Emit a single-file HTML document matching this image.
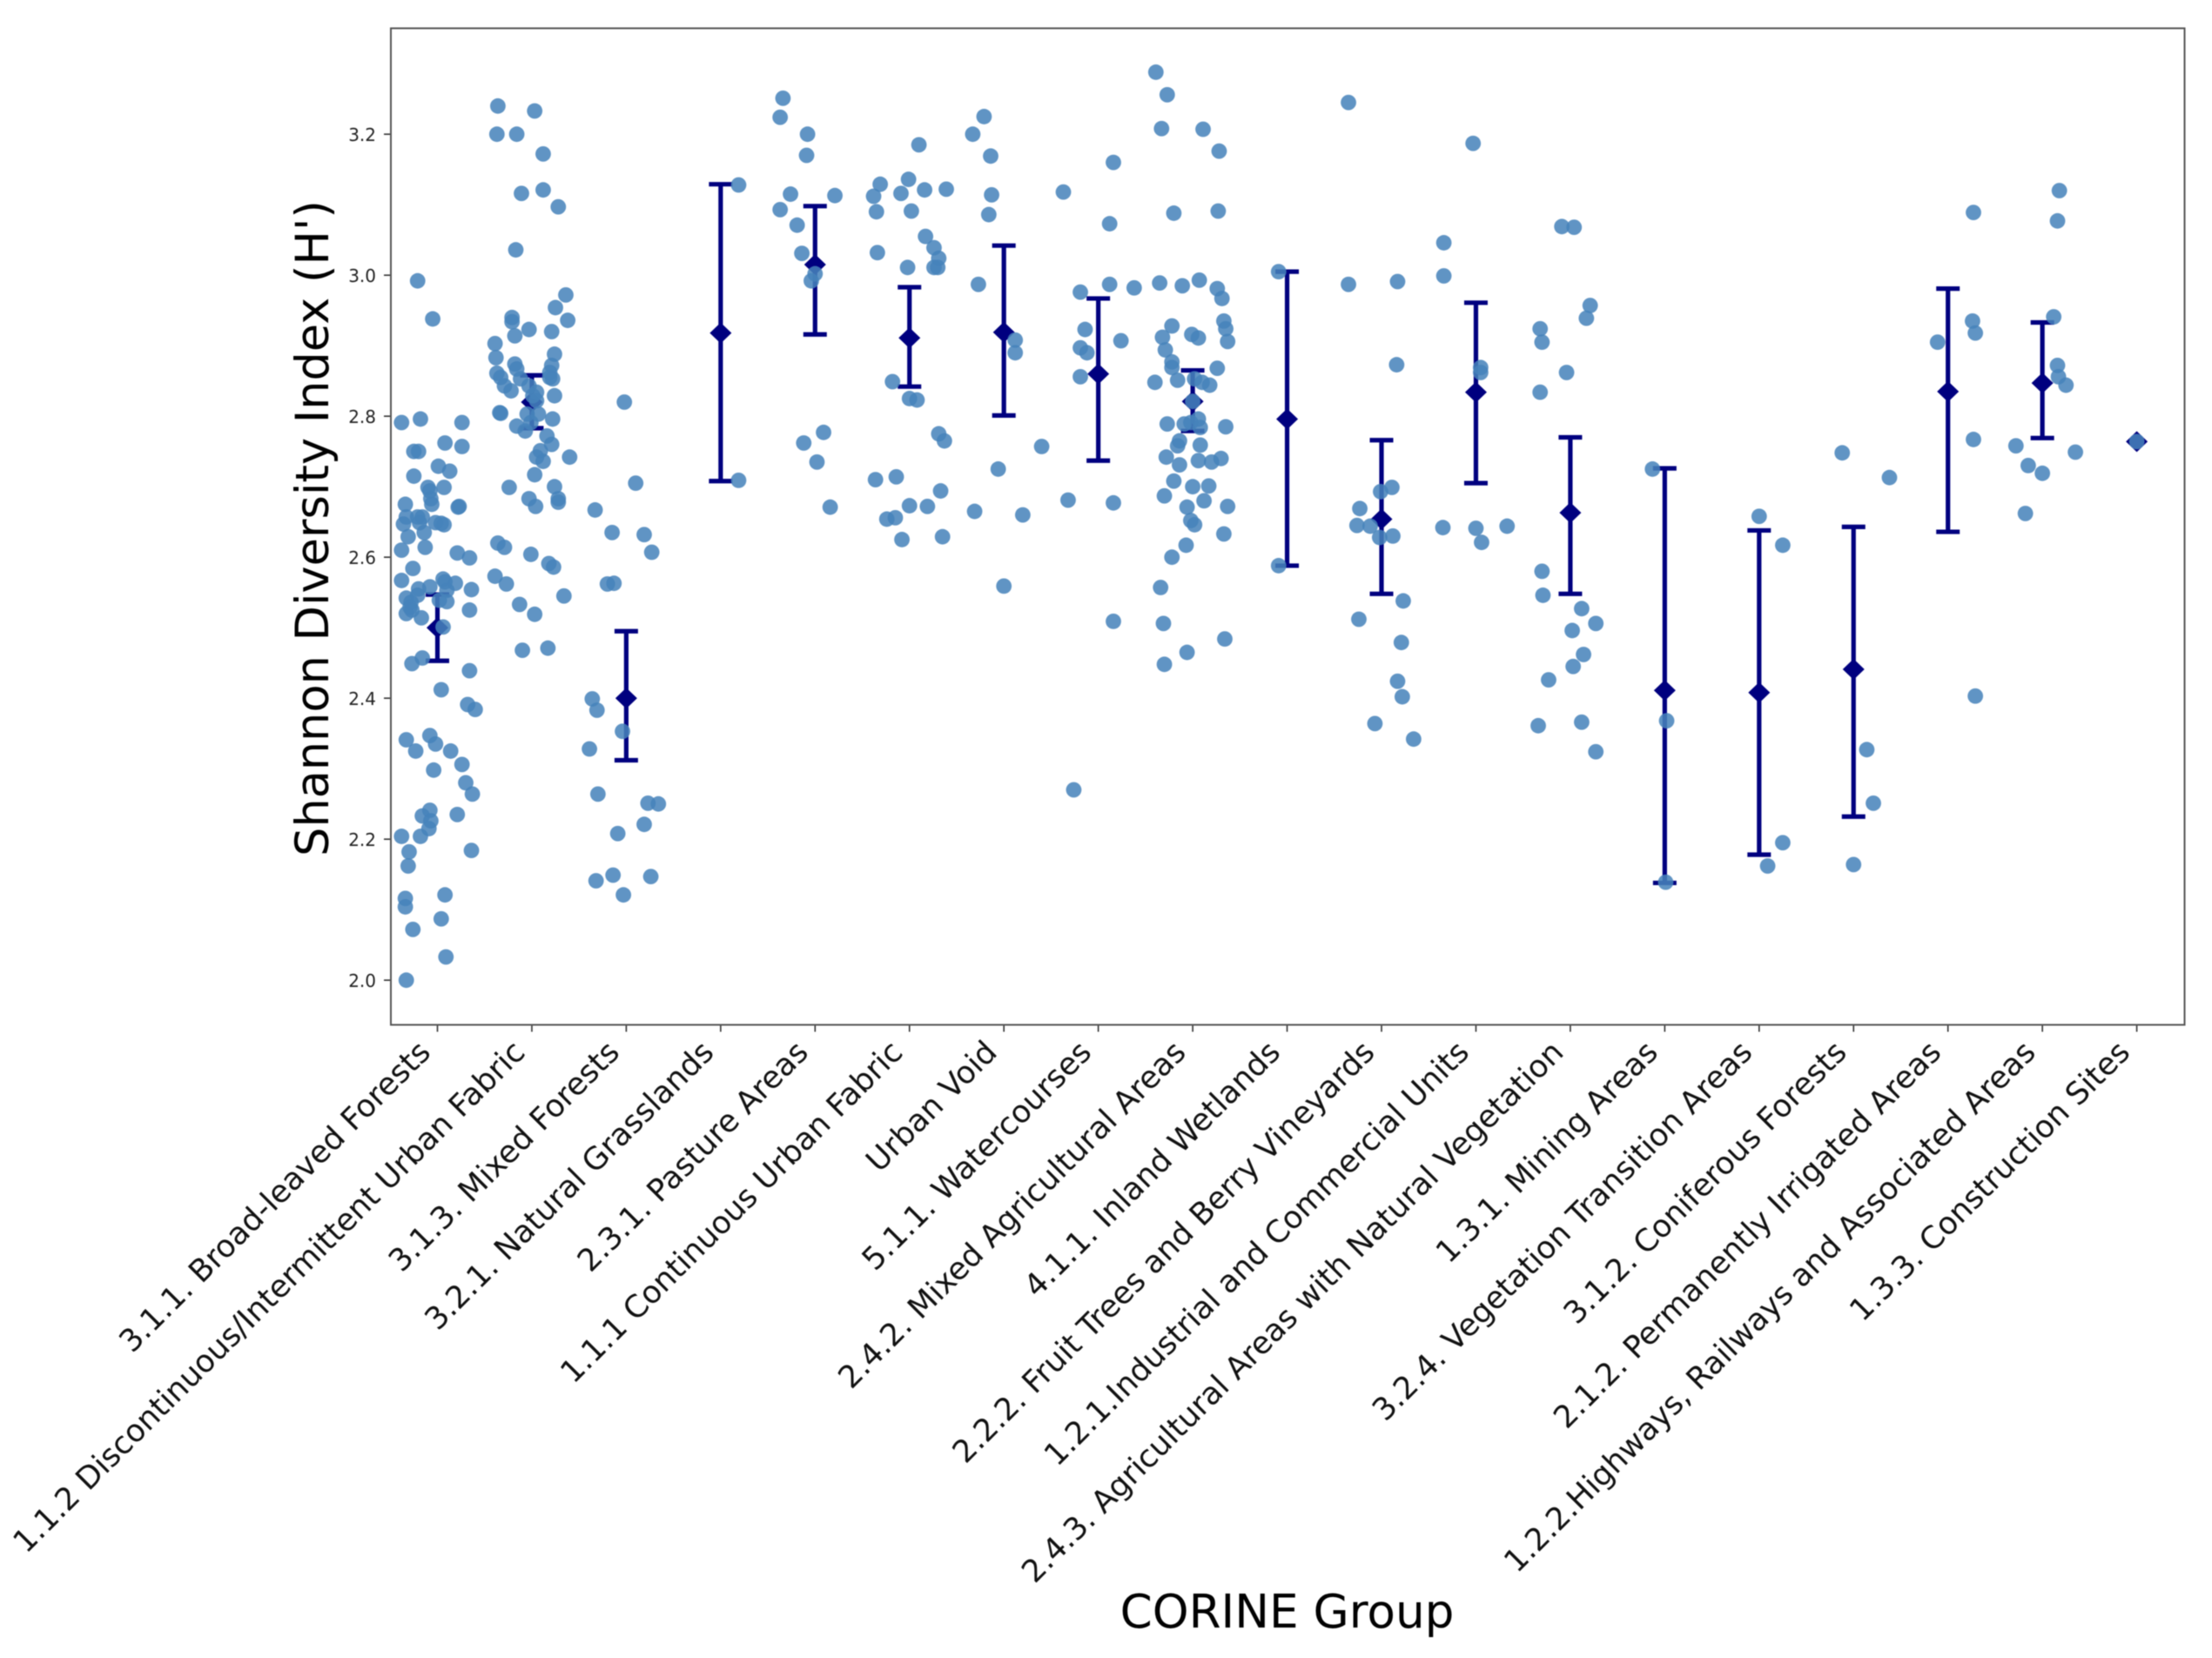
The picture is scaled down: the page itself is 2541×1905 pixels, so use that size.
<!DOCTYPE html>
<html lang="en">
<head>
<meta charset="utf-8">
<title>Shannon Diversity Index by CORINE Group</title>
<style>
html,body{margin:0;padding:0;background:#fff;}
#chart{display:block;width:2541px;height:1905px;filter:blur(0.6px);}
text{font-family:"DejaVu Sans","Liberation Sans",sans-serif;}
</style>
</head>
<body>
<svg id="chart" xmlns="http://www.w3.org/2000/svg" width="2541" height="1905" viewBox="0 0 2541 1905"></svg>
<script>
const categories = ["3.1.1. Broad-leaved Forests","1.1.2 Discontinuous/Intermittent Urban Fabric","3.1.3. Mixed Forests","3.2.1. Natural Grasslands","2.3.1. Pasture Areas","1.1.1 Continuous Urban Fabric","Urban Void","5.1.1. Watercourses","2.4.2. Mixed Agricultural Areas","4.1.1. Inland Wetlands","2.2.2. Fruit Trees and Berry Vineyards","1.2.1.Industrial and Commercial Units","2.4.3. Agricultural Areas with Natural Vegetation","1.3.1. Mining Areas","3.2.4. Vegetation Transition Areas","3.1.2. Coniferous Forests","2.1.2. Permanently Irrigated Areas","1.2.2.Highways, Railways and Associated Areas","1.3.3. Construction Sites"];
const yTickValues = [2.0,2.2,2.4,2.6,2.8,3.0,3.2];
const yTickLabels = ["2.0","2.2","2.4","2.6","2.8","3.0","3.2"];
const means = [2.50,2.82,2.40,2.918,3.015,2.911,2.919,2.860,2.821,2.796,2.654,2.834,2.663,2.411,2.408,2.441,2.835,2.847,2.764];
const errorLow = [2.453,2.783,2.312,2.708,2.916,2.842,2.801,2.737,2.779,2.588,2.548,2.705,2.548,2.138,2.178,2.232,2.636,2.769,2.764];
const errorHigh = [2.547,2.858,2.495,3.129,3.098,2.983,3.042,2.967,2.865,3.005,2.766,2.961,2.770,2.726,2.638,2.643,2.981,2.933,2.764];
const pointValues = [
[2.992,2.938,2.791,2.796,2.791,2.762,2.757,2.750,2.750,2.729,2.722,2.715,2.699,2.694,2.699,2.683,2.675,2.675,2.672,2.671,2.657,2.657,2.657,2.647,2.649,2.649,2.648,2.646,2.635,2.629,2.610,2.614,2.606,2.599,2.584,2.567,2.569,2.565,2.563,2.558,2.555,2.554,2.553,2.542,2.546,2.539,2.537,2.536,2.529,2.525,2.520,2.525,2.514,2.501,2.457,2.449,2.439,2.412,2.391,2.384,2.341,2.347,2.335,2.325,2.325,2.306,2.298,2.280,2.264,2.241,2.233,2.226,2.235,2.215,2.204,2.204,2.182,2.184,2.162,2.116,2.104,2.121,2.087,2.072,2.033,2.000],
[3.240,3.233,3.200,3.200,3.172,3.116,3.121,3.097,3.036,2.972,2.954,2.936,2.940,2.934,2.923,2.920,2.914,2.903,2.883,2.888,2.874,2.867,2.872,2.862,2.861,2.855,2.853,2.855,2.853,2.843,2.836,2.843,2.834,2.829,2.829,2.822,2.805,2.804,2.803,2.803,2.796,2.786,2.779,2.791,2.772,2.760,2.751,2.742,2.736,2.742,2.717,2.699,2.700,2.683,2.672,2.683,2.678,2.620,2.614,2.604,2.591,2.586,2.573,2.562,2.545,2.533,2.519,2.468,2.471],
[2.820,2.705,2.667,2.635,2.632,2.607,2.562,2.563,2.399,2.383,2.353,2.328,2.264,2.251,2.250,2.221,2.208,2.149,2.141,2.147,2.121],
[3.128,2.709],
[3.251,3.224,3.200,3.170,3.115,3.113,3.093,3.071,3.031,3.002,2.992,2.777,2.762,2.735,2.671],
[3.185,3.136,3.129,3.116,3.121,3.122,3.112,3.090,3.091,3.055,3.039,3.024,3.011,3.011,3.011,3.032,2.849,2.825,2.823,2.775,2.765,2.710,2.714,2.694,2.673,2.672,2.654,2.656,2.625,2.629],
[3.225,3.200,3.169,3.114,3.086,2.987,2.908,2.890,2.757,2.725,2.665,2.660,2.559],
[3.160,3.118,3.073,2.976,2.987,2.982,2.923,2.907,2.897,2.890,2.856,2.681,2.677,2.509,2.270],
[3.288,3.256,3.208,3.207,3.176,3.088,3.091,2.989,2.985,2.993,2.981,2.967,2.935,2.924,2.906,2.928,2.912,2.916,2.911,2.894,2.877,2.869,2.868,2.848,2.851,2.853,2.848,2.844,2.821,2.789,2.789,2.791,2.796,2.784,2.785,2.765,2.758,2.759,2.742,2.731,2.737,2.735,2.740,2.708,2.700,2.701,2.687,2.680,2.671,2.672,2.652,2.646,2.633,2.617,2.600,2.557,2.506,2.484,2.465,2.448],
[3.005,2.588],
[3.245,2.987,2.991,2.873,2.699,2.693,2.669,2.645,2.644,2.628,2.630,2.538,2.512,2.479,2.424,2.402,2.364,2.342],
[3.187,3.046,2.999,2.869,2.862,2.642,2.641,2.644,2.621],
[3.069,3.068,2.957,2.939,2.862,2.924,2.905,2.834,2.580,2.546,2.527,2.496,2.506,2.462,2.445,2.426,2.366,2.324,2.361],
[2.725,2.368,2.139],
[2.658,2.617,2.195,2.162],
[2.748,2.713,2.327,2.251,2.164],
[3.089,2.935,2.918,2.905,2.767,2.403],
[3.120,3.077,2.941,2.872,2.856,2.844,2.758,2.749,2.730,2.719,2.662],
[2.764]
];
const pointJitter = [
[-.21,-.05,-.38,-.18,.26,.08,.26,-.25,-.20,.01,.13,-.25,-.10,-.08,.07,-.07,-.06,-.34,.23,.22,-.33,-.21,-.16,-.36,-.19,-.02,.04,.07,-.14,-.31,-.38,-.13,.21,.34,-.26,-.38,.06,.08,.19,-.08,-.20,.36,.10,-.33,-.21,.02,.10,-.28,-.29,.34,-.33,-.27,-.17,.06,-.16,-.27,.34,.04,.32,.40,-.33,-.08,-.02,-.23,.14,.26,-.04,.30,.37,-.08,-.16,-.07,.21,-.09,-.38,-.18,-.30,.36,-.31,-.34,-.34,.08,.04,-.26,.09,-.33],
[-.36,.03,-.37,-.16,.12,-.11,.12,.28,-.17,.36,.25,.38,-.21,-.21,-.03,.21,-.18,-.39,-.38,.24,-.18,-.16,.21,.19,-.37,-.33,-.12,.19,.22,-.29,-.22,-.03,.05,.24,.01,.05,-.34,-.33,-.05,.07,.22,-.16,-.07,-.01,.16,.21,.09,.05,.12,.40,.03,-.24,.24,-.03,.04,.28,.28,-.36,-.29,-.01,.18,.23,-.39,-.27,.34,-.13,.03,-.10,.17],
[-.02,.10,-.33,-.15,.19,.27,-.20,-.13,-.36,-.31,-.04,-.39,-.30,.23,.34,.19,-.09,-.14,-.32,.26,-.03],
[.19,.19],
[-.34,-.37,-.08,-.09,-.26,.21,-.37,-.19,-.14,0,-.04,.09,-.12,.02,.16],
[.10,-.01,-.31,-.09,.16,.39,-.38,-.35,.02,.17,.26,.31,.26,.30,-.02,-.34,-.18,0,.08,.31,.37,-.36,-.14,.33,0,.19,-.24,-.15,-.08,.35],
[-.21,-.33,-.14,-.13,-.16,-.27,.12,.12,.40,-.06,-.31,.20,0],
[.16,-.37,.12,-.19,.12,.38,-.14,.24,-.19,-.12,-.19,-.32,.16,.16,-.26],
[-.39,-.27,-.33,.11,.28,-.20,.27,-.35,-.11,.07,.26,.31,.33,.35,.37,-.22,-.32,-.01,.06,-.29,-.22,-.22,.26,-.40,-.16,.02,.10,.18,0,-.27,-.09,-.02,.06,.08,.35,-.14,-.16,.08,-.28,-.14,.06,.20,.30,-.20,0,.17,-.30,.12,-.06,.37,-.02,.02,.33,-.07,-.22,-.34,-.31,.34,-.06,-.30],
[-.09,-.09],
[-.35,-.35,.17,.16,.11,-.01,-.23,-.26,-.12,-.02,.12,.23,-.24,.21,.17,.22,-.07,.34],
[-.03,-.34,-.34,.05,.05,-.35,0,.33,.06],
[-.09,.04,.21,.17,-.04,-.32,-.30,-.32,-.30,-.29,.12,.02,.27,.14,.03,-.23,.12,.27,-.34],
[-.13,.02,.01],
[0,.25,.25,.09],
[-.12,.38,.14,.21,0],
[.27,.26,.29,-.11,.27,.29],
[.18,.16,.12,.16,.17,.25,-.28,.35,-.15,0,-.18],
[0]
];

const xAxisFirstTick = 502.5;
const xAxisStep = 108.45;
const yAxisZeroValue = 2.0;
const yAxisZeroPixel = 1126.2;
const yAxisPixelsPerUnit = 810;
const plotLeft = 449, plotRight = 2509.5, plotTop = 32.5, plotBottom = 1177.5;

const NS = "http://www.w3.org/2000/svg";
const svg = document.getElementById("chart");
function xScale(pos){ return xAxisFirstTick + pos * xAxisStep; }
function yScale(val){ return yAxisZeroPixel - (val - yAxisZeroValue) * yAxisPixelsPerUnit; }
function make(tag, props, parent){
  const el = document.createElementNS(NS, tag);
  for (const k in props) el.setAttribute(k, props[k]);
  (parent || svg).appendChild(el);
  return el;
}

/* plot background */
const bg = make("rect",{x:plotLeft,y:plotTop,width:plotRight-plotLeft,height:plotBottom-plotTop,fill:"#fff"});



/* y ticks */
yTickValues.forEach(function(v,i){
  const g = make("g",{});
  
  
  make("line",{x1:plotLeft-8,x2:plotLeft,y1:yScale(v),y2:yScale(v),stroke:"#333","stroke-width":1.6},g);
  const t = make("text",{x:plotLeft-17,y:yScale(v)+8,"text-anchor":"end","font-size":20,fill:"#222"},g);
  t.textContent = yTickLabels[i];
});

/* x ticks and labels */
categories.forEach(function(name,i){
  const g = make("g",{});
  
  
  const px = xScale(i);
  make("line",{x1:px,x2:px,y1:plotBottom,y2:plotBottom+8,stroke:"#333","stroke-width":1.6},g);
  const t = make("text",{transform:"translate("+(px-6)+",1211) rotate(-45)","text-anchor":"end","font-size":35.5,fill:"#111"},g);
  t.textContent = name;
});

/* error bars and mean diamonds */
categories.forEach(function(name,i){
  const g = make("g",{});
  
  
  const px = xScale(i);
  if (errorHigh[i] !== errorLow[i]) {
    make("line",{x1:px,x2:px,y1:yScale(errorLow[i]),y2:yScale(errorHigh[i]),stroke:"#00007f","stroke-width":5.2},g);
    make("line",{x1:px-13.5,x2:px+13.5,y1:yScale(errorHigh[i]),y2:yScale(errorHigh[i]),stroke:"#00007f","stroke-width":5.2},g);
    make("line",{x1:px-13.5,x2:px+13.5,y1:yScale(errorLow[i]),y2:yScale(errorLow[i]),stroke:"#00007f","stroke-width":5.2},g);
  }
  const py = yScale(means[i]);
  const d = make("polygon",{points:(px-12.5)+","+py+" "+px+","+(py-12)+" "+(px+12.5)+","+py+" "+px+","+(py+12),fill:"#00007f"});
  
  
});

/* jittered points */
pointValues.forEach(function(vals,i){
  const g = make("g",{});
  
  
  vals.forEach(function(v,k){
    const c = make("circle",{cx:xScale(i + pointJitter[i][k]),cy:yScale(v),r:8.9,fill:"#4682ba","fill-opacity":0.86},g);
    
    
  });
});

/* spines */
const frame = make("rect",{x:plotLeft,y:plotTop,width:plotRight-plotLeft,height:plotBottom-plotTop,fill:"none",stroke:"#555","stroke-width":2});



/* axis titles */
const yTitle = make("text",{transform:"translate(377,607) rotate(-90)","text-anchor":"middle","font-size":52.5,fill:"#000"});


yTitle.textContent = "Shannon Diversity Index (H')";
const xTitle = make("text",{x:1478.5,y:1870,"text-anchor":"middle","font-size":53.2,fill:"#000"});


xTitle.textContent = "CORINE Group";
</script>
</body>
</html>
